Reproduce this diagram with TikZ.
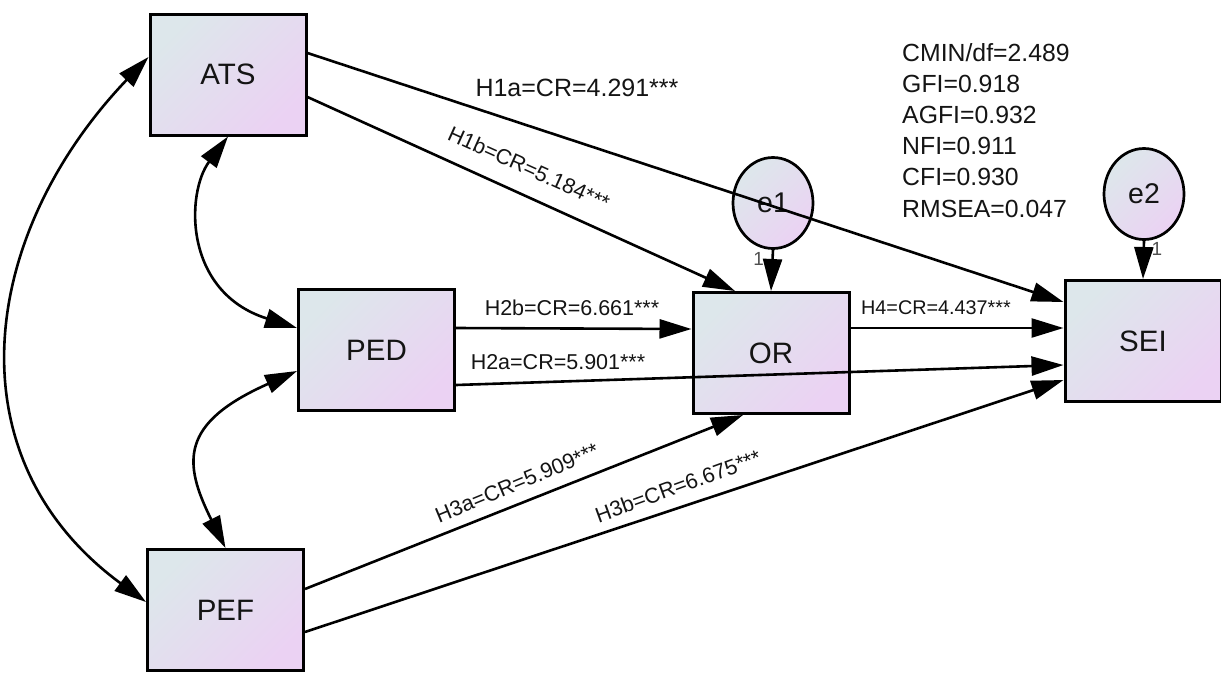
\documentclass[tikz,border=0pt]{standalone}
\usepackage{fontspec}
\setmainfont{Liberation Sans}
\usetikzlibrary{arrows.meta,shapes.geometric,calc}
\definecolor{shadeA}{RGB}{221,231,235}
\definecolor{shadeB}{RGB}{235,210,243}
\definecolor{txt}{RGB}{20,20,20}
\begin{document}
\begin{tikzpicture}[x=1pt,y=-1pt,
  obsbox/.style={draw=black, line width=3pt, top color=shadeA, bottom color=shadeB, shading angle=45,
    minimum width=156pt, minimum height=121pt, inner sep=0pt, font=\fontsize{29.5}{32}\selectfont, text=txt},
  errcirc/.style={ellipse, draw=black, line width=2.7pt, top color=shadeA, bottom color=shadeB, shading angle=45,
    minimum width=80pt, minimum height=91pt, inner sep=0pt, font=\fontsize{28.5}{30}\selectfont, text=txt},
  regarrow/.style={line width=2.6pt, -{Triangle[length=32pt,width=19pt]}},
  covarrow/.style={line width=2.6pt, {Triangle[length=32pt,width=19pt]}-{Triangle[length=32pt,width=19pt]}},
  lab/.style={font=\fontsize{21.5}{24}\selectfont, text=txt, inner sep=0pt},
  onelab/.style={font=\fontsize{19}{20}\selectfont, text=txt!75, inner sep=0pt},
]
\useasboundingbox (0,0) rectangle (1221,673);

% variables
\node[obsbox] (ATS) at (228,74.5) {ATS};
\node[obsbox] (PED) at (376.5,350) {PED};
\node[obsbox] (OR)  at (771,353) {OR};
\node[obsbox] (SEI) at (1143,341) {SEI};
\node[obsbox] (PEF) at (225.5,610) {PEF};
\node[errcirc] (e1) at (773,203) {e1};
\node[errcirc] (e2) at (1144,194) {e2};

% regression paths
\draw[regarrow] ($(ATS.east)+(0,-21.5)$) -- ($(SEI.west)+(0,-39)$);
\draw[regarrow] ($(ATS.east)+(0,22.5)$) -- ($(OR.north)+(-36,0)$);
\draw[regarrow] (e1.south) -- node[pos=0.22, xshift=-14pt, onelab] (one1) {1} (OR.north);
\draw[regarrow] (e2.south) -- node[pos=0.22, xshift=13pt, onelab] (one2) {1} (SEI.north);
\draw[regarrow] ($(PED.east)+(0,-22)$) -- ($(OR.west)+(0,-24)$);
\draw[regarrow] ($(PED.east)+(0,35)$) -- ($(SEI.west)+(0,24)$);
\draw[regarrow] ($(OR.east)+(0,-25)$) -- ($(SEI.west)+(0,-13)$);
\draw[regarrow] ($(PEF.east)+(0,-21)$) -- ($(OR.south)+(-28,0)$);
\draw[regarrow] ($(PEF.east)+(0,22)$) -- ($(SEI.west)+(0,39)$);

% covariances
\draw[covarrow] ($(ATS.west)+(0,-17.5)$) .. controls +(-168,176) and +(-197,-145) .. ($(PEF.west)+(0,-8)$);
\draw[covarrow] (ATS.south) .. controls +(-42,56) and +(-114,-36) .. ($(PED.west)+(0,-22)$);
\draw[covarrow] ($(PED.west)+(0,21)$) .. controls +(-117,52) and +(-43,-86) .. (PEF.north);

% path labels
\node[lab, font=\fontsize{25}{28}\selectfont] (h1a) at (577,88) {H1a=CR=4.291***};
\node[lab, rotate=-24.3] (h1b) at (529,168) {H1b=CR=5.184***};
\node[lab] (h2b) at (572,308) {H2b=CR=6.661***};
\node[lab] (h2a) at (558,362) {H2a=CR=5.901***};
\node[lab, font=\fontsize{19.8}{22}\selectfont] (h4) at (936,308) {H4=CR=4.437***};
\node[lab, rotate=22.5] (h3a) at (517,483) {H3a=CR=5.909***};
\node[lab, rotate=20] (h3b) at (678,486) {H3b=CR=6.675***};

% fit indices
\node[anchor=north west, align=left, inner sep=0pt, text=txt, font=\fontsize{24.8}{31.2}\selectfont] (fit) at (902,43)
  {CMIN/df=2.489\\GFI=0.918\\AGFI=0.932\\NFI=0.911\\CFI=0.930\\RMSEA=0.047};
\end{tikzpicture}
\end{document}
